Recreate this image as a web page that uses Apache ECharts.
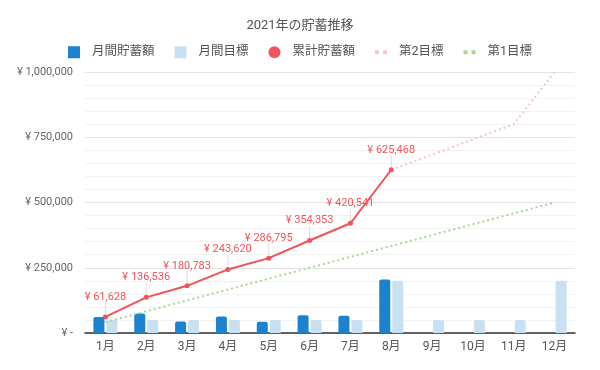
<!DOCTYPE html>
<html>
<head>
<meta charset="utf-8">
<script src="https://cdn.jsdelivr.net/npm/echarts@6/dist/echarts.min.js"></script>
<style>
html,body{margin:0;padding:0;background:#fff;}
#c{width:600px;height:370px;}
</style>
</head>
<body>
<div id="c"></div>
<script>
var categories = ['1月','2月','3月','4月','5月','6月','7月','8月','9月','10月','11月','12月'];
var monthlySavings = [61628, 74908, 44247, 62837, 43175, 67558, 66188, 204927, null, null, null, null];
var monthlyTarget = [50000, 50000, 50000, 50000, 50000, 50000, 50000, 200000, 50000, 50000, 50000, 200000];
var cumulativeSavings = [61628, 136536, 180783, 243620, 286795, 354353, 420541, 625468, null, null, null, null];
var goal2 = [61628, 136536, 180783, 243620, 286795, 354353, 420541, 625468, 683000, 742000, 800000, 1000000];
var goal1 = [41667, 83333, 125000, 166667, 208333, 250000, 291667, 333333, 375000, 416667, 458333, 500000];
var yTicks = [0, 250000, 500000, 750000, 1000000];

var font = '"Roboto","Noto Sans CJK JP",sans-serif';
function yen(v){ return v === 0 ? '¥ -' : '¥ ' + v.toLocaleString('en-US'); }
var dotIcon = 'path://M0,4h4v4h-4z M8,4h4v4h-4z M0,0h0.01v0.01z M12,12h-0.01v-0.01z';

var chart = echarts.init(document.getElementById('c'), null, {renderer:'canvas'});
chart.setOption({
  animation: false,
  textStyle: {fontFamily: font},
  title: {
    text: '2021年の貯蓄推移', left: 'center', top: 14,
    textStyle: {fontSize: 13, fontWeight: 'normal', color: '#555', fontFamily: font}
  },
  legend: {
    top: 41, left: 'center', itemWidth: 12, itemHeight: 12, itemGap: 20,
    textStyle: {fontSize: 12.5, color: '#555', fontFamily: font, padding: [0, 0, 0, 7]},
    data: [
      {name: '月間貯蓄額', icon: 'rect'},
      {name: '月間目標', icon: 'rect'},
      {name: '累計貯蓄額', icon: 'circle'},
      {name: '第2目標', icon: dotIcon},
      {name: '第1目標', icon: dotIcon}
    ]
  },
  grid: {left: 85, right: 25, top: 72, bottom: 37},
  xAxis: {
    type: 'category', data: categories,
    axisLine: {lineStyle: {color: '#333', width: 1.5}},
    axisTick: {show: false},
    axisLabel: {color: '#555', fontSize: 12, margin: 8, fontFamily: font}
  },
  yAxis: {
    type: 'value', min: yTicks[0], max: yTicks[yTicks.length-1], interval: 250000,
    axisLine: {show: false}, axisTick: {show: false},
    axisLabel: {color: '#666', fontSize: 11, margin: 12, formatter: yen, fontFamily: font},
    splitLine: {lineStyle: {color: '#e4e4e4'}},
    minorTick: {show: false, splitNumber: 5},
    minorSplitLine: {show: true, lineStyle: {color: '#f2f2f2'}}
  },
  series: [
    {
      name: '月間貯蓄額', type: 'bar', data: monthlySavings, barWidth: 11, barGap: '18%',
      itemStyle: {color: '#1c82cf', borderRadius: [2,2,0,0]}, z: 2
    },
    {
      name: '月間目標', type: 'bar', data: monthlyTarget, barWidth: 11,
      itemStyle: {color: '#c9dff2', borderRadius: [2,2,0,0]}, z: 2
    },
    {
      name: '第1目標', type: 'line', data: goal1, symbol: 'none', z: 3,
      itemStyle: {color: '#a6d796'},
      lineStyle: {color: '#a6d796', width: 2, type: [2, 3]}
    },
    {
      name: '第2目標', type: 'line', data: goal2, symbol: 'none', z: 3,
      itemStyle: {color: '#f9c4c7'},
      lineStyle: {color: '#f9c4c7', width: 2, type: [2, 3]}
    },
    {
      name: '累計貯蓄額', type: 'line', data: cumulativeSavings, z: 5,
      symbol: 'circle', symbolSize: 5, showSymbol: true,
      itemStyle: {color: '#f2545b'},
      lineStyle: {color: '#f2545b', width: 2},
      label: {
        show: true, position: 'top', distance: 2, color: '#f2545b', fontSize: 11,
        fontFamily: font, formatter: function(p){ return yen(p.value); }
      },
      labelLayout: {dy: -10},
      labelLine: {show: true, lineStyle: {color: '#dddddd', width: 1}}
    }
  ]
});
</script>
</body>
</html>
